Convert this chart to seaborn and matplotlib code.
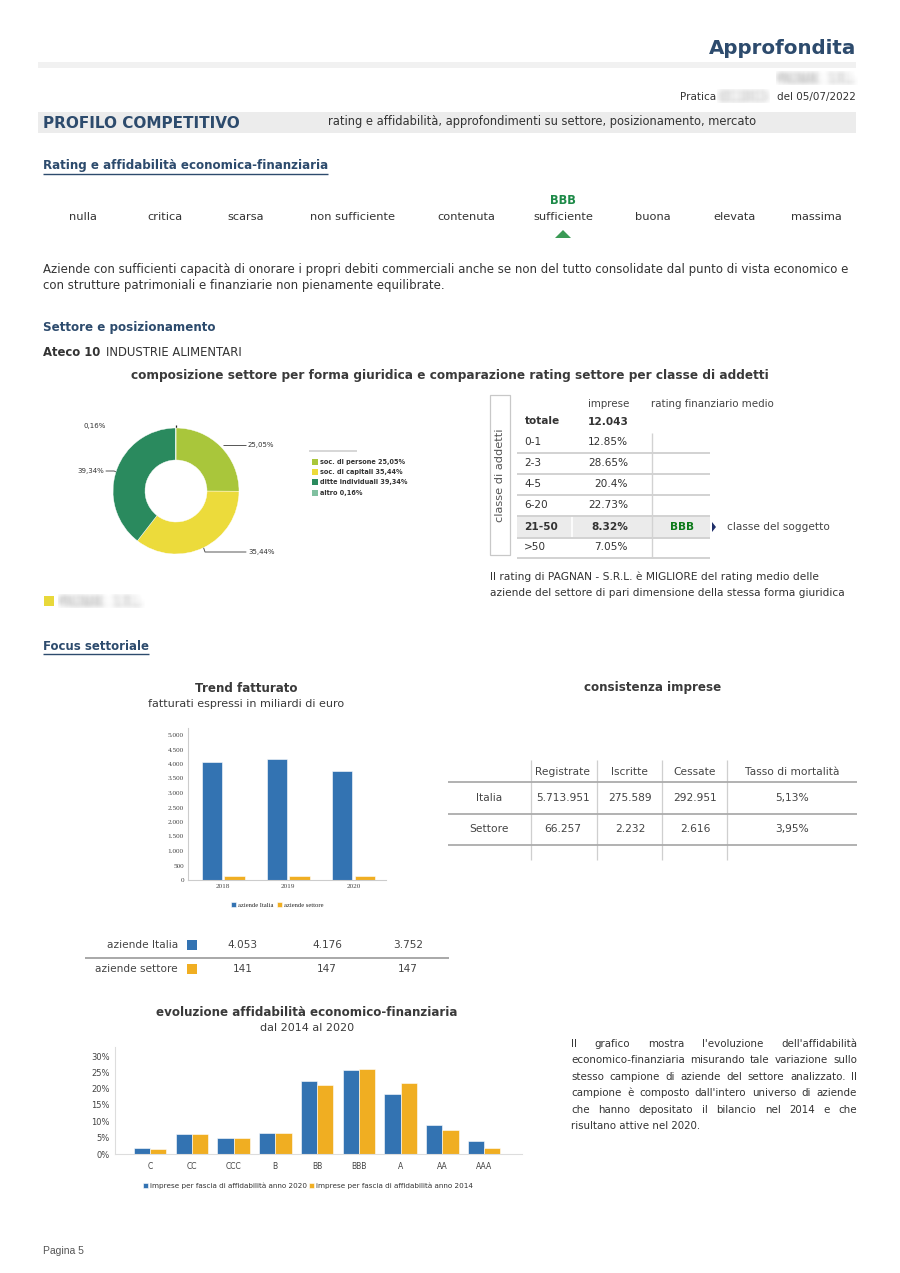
import numpy as np
import pandas as pd
import matplotlib
matplotlib.use("Agg")
import matplotlib.pyplot as plt
import seaborn as sns
from matplotlib.patches import Rectangle, Polygon
from matplotlib.ticker import FuncFormatter

# ---- data ----
rating_labels = ["nulla", "critica", "scarsa", "non sufficiente", "contenuta",
                 "sufficiente", "buona", "elevata", "massima"]
rating_soggetto = "sufficiente"
rating_codice = "BBB"

forme = ["soc. di persone", "soc. di capitali", "ditte individuali", "altro"]
forme_quote = [25.05, 35.44, 39.34, 0.16]
forme_colori = ["#a9c63b", "#ecdb3b", "#2a8a5e", "#80c0a0"]

classi = ["0-1", "2-3", "4-5", "6-20", "21-50", ">50"]
classi_quote = ["12.85%", "28.65%", "20.4%", "22.73%", "8.32%", "7.05%"]
classe_soggetto = "21-50"
imprese_totale = "12.043"

anni = ["2018", "2019", "2020"]
fatturato_italia = [4053, 4176, 3752]
fatturato_settore = [141, 147, 147]

consistenza_colonne = ["Registrate", "Iscritte", "Cessate", "Tasso di mortalità"]
consistenza_righe = ["Italia", "Settore"]
consistenza_italia = ["5.713.951", "275.589", "292.951", "5,13%"]
consistenza_settore = ["66.257", "2.232", "2.616", "3,95%"]

fasce = ["C", "CC", "CCC", "B", "BB", "BBB", "A", "AA", "AAA"]
fasce_2020 = [1.8, 6.0, 4.8, 6.4, 22.3, 25.7, 18.4, 9.0, 4.1]
fasce_2014 = [1.5, 6.1, 4.8, 6.4, 21.0, 25.9, 21.7, 7.3, 1.8]

NAVY = "#2d4b6d"
TEXT = "#333333"
GREEN = "#1d8a48"
BLUE = "#3373b2"
ORANGE = "#f0ae22"
W, H = 900, 1273

sns.set_theme(style="white")
plt.rcParams["font.family"] = ["DejaVu Sans"]

fig = plt.figure(figsize=(9, 12.73), dpi=100)
page = fig.add_axes([0, 0, 1, 1])
page.set_xlim(0, W)
page.set_ylim(H, 0)
page.axis("off")


def px_axes(x0, y0, x1, y1):
    return fig.add_axes([x0 / W, 1 - y1 / H, (x1 - x0) / W, (y1 - y0) / H])


def txt(x, y, s, size=8, color=TEXT, weight="normal", ha="left", va="center", **kw):
    return page.text(x, y, s, fontsize=size, color=color, fontweight=weight,
                     ha=ha, va=va, **kw)


def hline(y, x0, x1, color="#cccccc", lw=1.0):
    page.plot([x0, x1], [y, y], color=color, lw=lw, solid_capstyle="butt")


def vline(x, y0, y1, color="#cccccc", lw=1.0):
    page.plot([x, x], [y0, y1], color=color, lw=lw, solid_capstyle="butt")


def blur(img, dpi, r=3):
    # simple box blur for the obscured names
    img = np.pad(img, ((r, r), (r, r), (0, 0)))
    k = np.ones(2 * r + 1) / (2 * r + 1)
    for _ in range(2):
        for axis in (0, 1):
            img = np.apply_along_axis(lambda v: np.convolve(v, k, mode="same"), axis, img)
    return img, -r, -r


def underline(t, color):
    r = fig.canvas.get_renderer()
    bb = t.get_window_extent(r)
    x, y = t.get_position()
    hline(y + 8, x, x + bb.width, color=color, lw=1.0)


# ---- header ----
txt(856, 48, "Approfondita", 14.3, NAVY, "bold", ha="right")
page.add_patch(Rectangle((38, 62), 818, 6, color="#f1f1f1", lw=0))
t = txt(856, 79, "PAGNAN - S.R.L.", 7, "#666666", ha="right")
t.set_agg_filter(blur)
txt(856, 97, "del 05/07/2022", 7.5, TEXT, ha="right")
t = txt(744, 97, "19118415", 7, "#888888", ha="center")
t.set_agg_filter(blur)
txt(716, 97, "Pratica", 7.5, TEXT, ha="right")

page.add_patch(Rectangle((38, 112), 818, 21, color="#ececec", lw=0))
txt(43, 124, "PROFILO COMPETITIVO", 11, NAVY, "bold")
txt(328, 122, "rating e affidabilità, approfondimenti su settore, posizionamento, mercato", 8.3)

# ---- rating ----
t = txt(43, 166, "Rating e affidabilità economica-finanziaria", 8.6, NAVY, "bold")
underline(t, NAVY)
rating_x = [83, 165, 246, 352, 466, 563, 653, 734, 816]
for x, lab in zip(rating_x, rating_labels):
    txt(x, 217, lab, 8.2, ha="center")
    if lab == rating_soggetto:
        txt(x, 200, rating_codice, 8.3, GREEN, "bold", ha="center")
        page.add_patch(Polygon([(x - 8, 238), (x + 8, 238), (x, 230)], color="#3a9a55", lw=0))

txt(43, 269, "Aziende con sufficienti capacità di onorare i propri debiti commerciali anche se non del tutto "
    "consolidate dal punto di vista economico e", 8.5)
txt(43, 286, "con strutture patrimoniali e finanziarie non pienamente equilibrate.", 8.5)

# ---- settore e posizionamento ----
txt(43, 327, "Settore e posizionamento", 8.6, NAVY, "bold")
txt(43, 352, "Ateco 10", 8.4, TEXT, "bold")
txt(106, 352, "INDUSTRIE ALIMENTARI", 8.4)
txt(450, 376, "composizione settore per forma giuridica e comparazione rating settore per classe di addetti",
    8.7, "#3a3a3a", "bold", ha="center")

# donut
axp = px_axes(96, 411, 256, 571)
axp.pie(forme_quote, colors=forme_colori, startangle=90, counterclock=False, radius=63 / 80,
        wedgeprops=dict(width=32 / 80, edgecolor="white", linewidth=0.3))
axp.set_xlim(-1, 1)
axp.set_ylim(-1, 1)
axp.set_aspect("equal")
axp.axis("off")

pct = [f"{v:.2f}".replace(".", ",") + "%" for v in forme_quote]
lab_pos = [(248, 445, "left"), (248, 552, "left"), (104, 471, "right"), (106, 426, "right")]
for (x, y, ha), s in zip(lab_pos, pct):
    txt(x, y, s, 5, "#333333", ha=ha)
hline(445, 223, 246, "#555555", 0.7)
page.plot([202, 205, 246], [543, 552, 552], color="#555555", lw=0.7)
page.plot([106, 114, 122], [471, 471, 474], color="#555555", lw=0.7)
vline(176, 425, 435, "#222222", 0.9)

hline(451, 309, 357, "#d0d0d0", 1.2)
for i, (f, v, c) in enumerate(zip(forme, pct, forme_colori)):
    y = 462 + i * 10.2
    page.add_patch(Rectangle((312, y - 3), 6, 6, color=c, lw=0))
    txt(320, y, f"{f} {v}", 4.7, "#333333", "bold")

page.add_patch(Rectangle((44, 596), 10, 10, color="#e8d83a", lw=0))
t = txt(60, 602, "PAGNAN - S.R.L.", 7.5, "#777777")
t.set_agg_filter(blur)

# classe di addetti table
page.add_patch(Rectangle((490, 395), 20, 160, fill=False, ec="#c8c8c8", lw=0.9))
txt(500, 475, "classe di addetti", 8.2, "#555555", ha="center", rotation=90)
txt(609, 404, "imprese", 7.4, "#444444", ha="center")
txt(651, 404, "rating finanziario medio", 7.4, "#444444")
txt(525, 421, "totale", 7.6, "#333333", "bold")
txt(629, 422, imprese_totale, 7.6, "#333333", "bold", ha="right")
row_y = [442, 463, 484, 505, 527, 547]
for y, c, q in zip(row_y, classi, classi_quote):
    bold = "bold" if c == classe_soggetto else "normal"
    if c == classe_soggetto:
        page.add_patch(Rectangle((517, y - 11), 193, 22, color="#ebebeb", lw=0))
        vline(572, y - 11, y + 11, "white", 1.2)
        txt(682, y, rating_codice, 7.6, "#0d7a1a", "bold", ha="center")
        page.add_patch(Polygon([(712, y - 5), (712, y + 5), (716, y)], color="#1f2f6a", lw=0))
        txt(727, y, "classe del soggetto", 7.6, "#444444")
    txt(524, y, c, 7.6, "#333333", bold)
    txt(628, y, q, 7.6, "#333333", bold, ha="right")
for y in [453, 474, 495, 516, 538, 558]:
    hline(y, 517, 710, "#d2d2d2", 1.4)
vline(652, 433, 558, "#d2d2d2", 1.0)
txt(490, 577, "Il rating di PAGNAN - S.R.L. è MIGLIORE del rating medio delle", 7.7)
txt(490, 593, "aziende del settore di pari dimensione della stessa forma giuridica", 7.6)

# ---- focus settoriale ----
t = txt(43, 646, "Focus settoriale", 8.5, NAVY, "bold")
underline(t, NAVY)

txt(246, 688, "Trend fatturato", 8.6, "#3a3a3a", "bold", ha="center")
txt(246, 704, "fatturati espressi in miliardi di euro", 8, "#3a3a3a", ha="center")

trend = pd.DataFrame({
    "anno": anni * 2,
    "valore": fatturato_italia + fatturato_settore,
    "serie": ["aziende Italia"] * 3 + ["aziende settore"] * 3,
})
ax1 = px_axes(188, 728, 386, 880)
sns.barplot(data=trend, x="anno", y="valore", hue="serie", palette=[BLUE, ORANGE], saturation=1,
            width=0.7, gap=0.1, edgecolor="white", linewidth=0.4, ax=ax1)
ax1.set_xlim(-0.54, 2.5)
ax1.set_ylim(0, 5000 * 152 / 145)
ax1.set_yticks(range(0, 5001, 500))
ax1.yaxis.set_major_formatter(FuncFormatter(lambda v, p: f"{int(v):,}".replace(",", ".")))
ax1.set_xlabel("")
ax1.set_ylabel("")
ax1.tick_params(length=0, pad=3, labelsize=5.2, labelcolor="#444444")
for lab in ax1.get_xticklabels() + ax1.get_yticklabels():
    lab.set_family("Liberation Serif")
for s in ["top", "right"]:
    ax1.spines[s].set_visible(False)
for s in ["left", "bottom"]:
    ax1.spines[s].set_color("#cccccc")
    ax1.spines[s].set_linewidth(0.8)
sns.move_legend(ax1, "center", bbox_to_anchor=(0.45, -0.165), ncol=2, title=None, frameon=False,
                handlelength=0.7, handleheight=0.7, columnspacing=0.6,
                handletextpad=0.3, prop={"family": "Liberation Serif", "size": 4.8})

# table under trend chart
serie_vals = [("aziende Italia", BLUE, fatturato_italia), ("aziende settore", ORANGE, fatturato_settore)]
for (lab, col, vals), y in zip(serie_vals, [945, 969]):
    txt(178, y, lab, 7.6, "#444444", ha="right")
    page.add_patch(Rectangle((187, y - 5), 10, 10, color=col, lw=0))
    for x, v in zip([243, 327, 408], vals):
        txt(x, y, f"{v:,}".replace(",", "."), 7.6, "#444444", ha="center")
hline(958, 85, 449, "#9a9a9a", 1.2)

# consistenza imprese table
txt(653, 688, "consistenza imprese", 8.6, "#3a3a3a", "bold", ha="center")
col_x = [563, 630, 695, 792]
for x, c in zip(col_x, consistenza_colonne):
    txt(x, 772, c, 7.7, "#444444", ha="center")
for y, r, vals in zip([798, 829], consistenza_righe, [consistenza_italia, consistenza_settore]):
    txt(489, y, r, 7.7, "#444444", ha="center")
    for x, v in zip(col_x, vals):
        txt(x, y, v, 7.7, "#444444", ha="center")
for x in [531, 597, 662, 727]:
    vline(x, 760, 860, "#cfcfcf", 0.9)
for y in [782, 814, 845]:
    hline(y, 448, 857, "#ababab", 1.3)

# ---- evoluzione affidabilita ----
txt(307, 1012, "evoluzione affidabilità economico-finanziaria", 8.6, "#3a3a3a", "bold", ha="center")
txt(307, 1028, "dal 2014 al 2020", 8, "#3a3a3a", ha="center")

evo = pd.DataFrame({
    "fascia": fasce * 2,
    "quota": fasce_2020 + fasce_2014,
    "serie": ["imprese per fascia di affidabilità anno 2020"] * 9
             + ["imprese per fascia di affidabilità anno 2014"] * 9,
})
ax2 = px_axes(115, 1047, 522, 1154)
sns.barplot(data=evo, x="fascia", y="quota", hue="serie", palette=[BLUE, ORANGE], saturation=1,
            width=0.78, gap=0, edgecolor="white", linewidth=0.4, ax=ax2)
ax2.set_xlim(-0.84, 8.91)
ax2.set_ylim(0, 30 * 107 / 98)
ax2.set_yticks(range(0, 31, 5))
ax2.yaxis.set_major_formatter(FuncFormatter(lambda v, p: f"{int(v)}%"))
ax2.set_xlabel("")
ax2.set_ylabel("")
ax2.tick_params(length=0, pad=4, labelsize=6, labelcolor="#444444")
ax2.tick_params(axis="x", labelsize=5.5, pad=6)
for s in ["top", "right"]:
    ax2.spines[s].set_visible(False)
for s in ["left", "bottom"]:
    ax2.spines[s].set_color("#dddddd")
    ax2.spines[s].set_linewidth(0.8)
sns.move_legend(ax2, "center", bbox_to_anchor=(0.474, -0.3), ncol=2, title=None, frameon=False,
                fontsize=5.2, handlelength=0.7, handleheight=0.7, columnspacing=0.3,
                handletextpad=0.3)
for t in ax2.get_legend().get_texts():
    t.set_color("#333333")

# justified paragraph
par = ["Il grafico mostra l'evoluzione dell'affidabilità",
       "economico-finanziaria misurando tale variazione sullo",
       "stesso campione di aziende del settore analizzato. Il",
       "campione è composto dall'intero universo di aziende",
       "che hanno depositato il bilancio nel 2014 e che",
       "risultano attive nel 2020."]
rend = fig.canvas.get_renderer()
for i, line in enumerate(par):
    y = 1044 + i * 16.4
    if i == len(par) - 1:
        txt(571, y, line, 7.4)
        continue
    words = [txt(571, y, w, 7.4) for w in line.split()]
    widths = [w.get_window_extent(rend).width for w in words]
    space = (857 - 571 - sum(widths)) / (len(words) - 1)
    x = 571
    for w, wd in zip(words, widths):
        w.set_x(x)
        x += wd + space

txt(43, 1251, "Pagina 5", 7.5, "#555555", family="Liberation Sans")

fig.savefig("out.png", dpi=100, facecolor="white")
